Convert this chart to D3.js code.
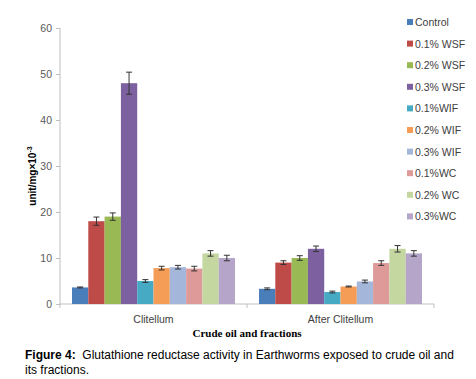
<!DOCTYPE html>
<html>
<head>
<meta charset="utf-8">
<script src="https://cdn.jsdelivr.net/npm/d3@7"></script>
<style>
  body { margin: 0; background: #fff; }
  svg text { font-family: "Liberation Sans", Arial, sans-serif; }
</style>
</head>
<body>
<svg id="chart" width="476" height="379"></svg>
<script>
/* ── Data ─────────────────────────────────────────────── */
const groups = ["Clitellum", "After Clitellum"];
const series = ["Control", "0.1% WSF", "0.2% WSF", "0.3% WSF", "0.1%WIF",
                "0.2% WIF", "0.3% WIF", "0.1%WC", "0.2% WC", "0.3%WC"];
const clitellum      = [3.6, 18, 19, 48, 5, 7.8, 8, 7.7, 11, 10];
const clitellumErr   = [0.1, 0.9, 0.8, 2.4, 0.3, 0.4, 0.4, 0.5, 0.6, 0.6];
const afterClit      = [3.3, 9, 10, 12, 2.6, 3.8, 4.9, 8.9, 12, 11];
const afterClitErr   = [0.2, 0.4, 0.5, 0.6, 0.2, 0.1, 0.3, 0.5, 0.7, 0.6];
const yTicks = [0, 10, 20, 30, 40, 50, 60];

const colors = ["#4a7ebb", "#be4b48", "#98b954", "#7d60a0", "#46aac5",
                "#f59d56", "#a5b6db", "#dd9a98", "#c4d7a0", "#b4a5c9"];

/* ── Layout ───────────────────────────────────────────── */
const svg = d3.select("#chart");
const x0 = d3.scaleBand().domain(groups).range([60, 434]);
const x1 = d3.scaleBand().domain(series).range([12, x0.bandwidth() - 12]);
const y = d3.scaleLinear().domain([0, 60]).range([304, 28]);

const rows = [];
groups.forEach((g, gi) => {
  const vals = gi === 0 ? clitellum : afterClit;
  const errs = gi === 0 ? clitellumErr : afterClitErr;
  series.forEach((s, i) => rows.push({ g, s, i, v: vals[i], e: errs[i] }));
});

/* ── Axes ─────────────────────────────────────────────── */
const yAxis = svg.append("g").attr("transform", "translate(60,0)")
  .call(d3.axisLeft(y).tickValues(yTicks).tickSize(4).tickPadding(4));
yAxis.selectAll("path, line").attr("stroke", "#bfbfbf");
yAxis.select(".domain").attr("d", `M0,${y(60)}V${y(0)}`);
yAxis.selectAll("text").attr("fill", "#595959").attr("font-size", 10.5);

const xAxis = svg.append("g").attr("transform", `translate(0,${y(0)})`);
xAxis.append("line").attr("x1", 60).attr("x2", 434).attr("stroke", "#bfbfbf");
[60, 60 + x0.bandwidth(), 434].forEach(px =>
  xAxis.append("line").attr("x1", px).attr("x2", px).attr("y2", 4).attr("stroke", "#bfbfbf"));
groups.forEach(g => xAxis.append("text")
  .attr("x", x0(g) + x0.bandwidth() / 2).attr("y", 19)
  .attr("text-anchor", "middle").attr("fill", "#404040").attr("font-size", 10.5).text(g));

/* ── Bars + error bars ────────────────────────────────── */
const bar = svg.append("g").selectAll("g").data(rows).join("g")
  .attr("transform", d => `translate(${x0(d.g) + x1(d.s)},0)`);
bar.append("rect")
  .attr("y", d => y(d.v)).attr("width", x1.bandwidth())
  .attr("height", d => y(0) - y(d.v)).attr("fill", d => colors[d.i]);
const cx = x1.bandwidth() / 2;
bar.append("path")
  .attr("d", d => `M${cx},${y(d.v + d.e)}V${y(d.v - d.e)}M${cx - 3},${y(d.v + d.e)}h6M${cx - 3},${y(d.v - d.e)}h6`)
  .attr("stroke", "#333").attr("stroke-width", 1).attr("fill", "none");

/* ── Titles ───────────────────────────────────────────── */
svg.append("text")
  .attr("transform", "translate(36,176) rotate(-90)")
  .attr("text-anchor", "middle").attr("font-size", 10).attr("font-weight", "bold")
  .attr("fill", "#000")
  .html('unit/mg×10<tspan dy="-4" font-size="7">-3</tspan>');

svg.append("text").attr("x", 247).attr("y", 337).attr("text-anchor", "middle")
  .style("font-family", "'Liberation Serif', 'Times New Roman', serif")
  .attr("font-weight", "bold").attr("font-size", 11).text("Crude oil and fractions");

/* ── Legend ───────────────────────────────────────────── */
const leg = svg.append("g").selectAll("g").data(series).join("g")
  .attr("transform", (d, i) => `translate(407,${22 + i * 21.6})`);
leg.append("rect").attr("x", 0).attr("y", -3).attr("width", 6).attr("height", 6)
  .attr("fill", (d, i) => colors[i]);
leg.append("text").attr("x", 8).attr("y", 4).attr("font-size", 10.5)
  .attr("fill", "#404040").text(d => d);

/* ── Caption ──────────────────────────────────────────── */
const cap = svg.append("text").attr("x", 25).attr("y", 359).attr("font-size", 12).attr("fill", "#000")
  .attr("xml:space", "preserve");
cap.append("tspan").attr("font-weight", "bold").text("Figure 4:");
cap.append("tspan").text("  Glutathione reductase activity in Earthworms exposed to crude oil and");
svg.append("text").attr("x", 25).attr("y", 374).attr("font-size", 12).attr("fill", "#000")
  .text("its fractions.");
</script>
</body>
</html>
